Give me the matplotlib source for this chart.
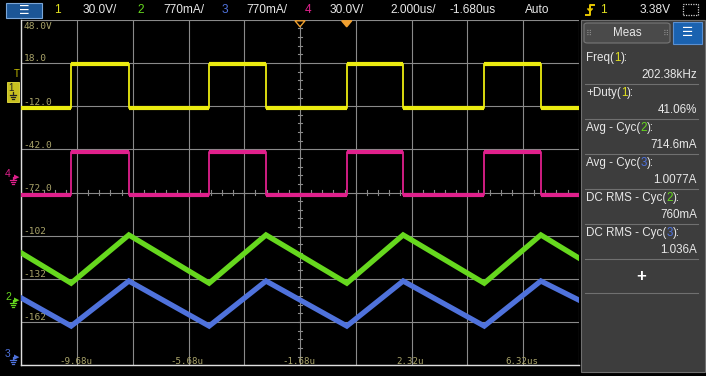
import numpy as np
import matplotlib
matplotlib.use("Agg")
import matplotlib.pyplot as plt
from matplotlib.patches import Rectangle, FancyBboxPatch, Polygon
from matplotlib.lines import Line2D

rise_us = [-9.89, -4.94, 0.00, 4.93]          # rising edges of ch1 / ch4
fall_us = [-7.82, -2.90, 2.02, 6.96]          # falling edges of ch1 / ch4
ch1_high, ch1_low = 17.5, -13.0               # yellow square (V on screen scale)
ch4_high, ch4_low = -44.0, -73.5              # magenta square

ch2_t = [-11.68, -9.89, -7.82, -4.94, -2.90, 0.00, 2.02, 4.93, 6.96, 8.32]
ch2_v = [-114.0, -135.0, -101.5, -135.0, -101.5, -135.0, -101.5, -135.0, -101.5, -117.5]
ch3_t = [-11.68, -9.89, -7.82, -4.94, -2.90, 0.00, 2.02, 4.93, 6.96, 8.32]
ch3_v = [-145.3, -164.8, -133.5, -164.8, -133.5, -164.8, -133.5, -164.8, -133.5, -146.7]

volt_levels = [48, 18, -12, -42, -72, -102, -132, -162]
volt_labels = ["48.0V", "18.0", "-12.0", "-42.0", "-72.0", "-102", "-132", "-162"]
time_pos = [-9.68, -5.68, -1.68, 2.32, 6.32]
time_labels = ["-9.68u", "-5.68u", "-1.68u", "2.32u", "6.32us"]

meas_names = [("Freq(", "1", "):"), ("+Duty(", "1", "):"), ("Avg - Cyc(", "2", "):"),
              ("Avg - Cyc(", "3", "):"), ("DC RMS - Cyc(", "2", "):"), ("DC RMS - Cyc(", "3", "):")]
meas_values = ["202.38kHz", "41.06%", "714.6mA", "1.0077A", "760mA", "1.036A"]

top_items = [("1", "ch1"), ("30.0V/", "txt"), ("2", "ch2"), ("770mA/", "txt"), ("3", "ch3"),
             ("770mA/", "txt"), ("4", "ch4"), ("30.0V/", "txt"), ("2.000us/", "txt"),
             ("-1.680us", "txt"), ("Auto", "txt"), ("1", "ch1"), ("3.38V", "txt")]

# ---------------- styling ----------------
W, H = 706, 376
C1, C2, C3, C4 = "#ecec10", "#66d81e", "#4f72dc", "#e0208c"
C1T = "#e0e020"
GRID = "#8a8a8a"
LBL = "#aaa46a"
SANS = ["Liberation Sans", "DejaVu Sans"]
MONO = ["DejaVu Sans Mono"]

fig = plt.figure(figsize=(W / 100, H / 100), dpi=100, facecolor="black")

def fx(x):
    return x / W

def fy(y):
    return 1 - y / H

def fline(xs, ys, color, lw=0.9, z=6):
    fig.lines.append(Line2D([fx(v) for v in xs], [fy(v) for v in ys],
                            transform=fig.transFigure, color=color, lw=lw, zorder=z))

def gnd(x, y, color):
    # small ground symbol: stem + three bars, top at (x, y)
    fline([x, x], [y, y + 3], color)
    fline([x - 3, x + 3], [y + 3, y + 3], color)
    fline([x - 2, x + 2], [y + 5, y + 5], color)
    fline([x - 1, x + 1], [y + 7, y + 7], color)

# graticule axes: x 21.25..578.75 px, y 19.8..365.2 px
L, R, T, B = 21.25, 578.75, 19.8, 365.2
ax = fig.add_axes([fx(L), fy(B), (R - L) / W, (B - T) / H])
ax.set_facecolor("black")
ax.set_xlim(-11.68, 8.32)
ax.set_ylim(-192, 48)
ax.set_xticks(np.arange(-11.68, 8.33, 2.0))
ax.set_yticks(np.arange(-192, 48.1, 30))
ax.grid(True, color=GRID, lw=0.8)
ax.tick_params(length=0, labelbottom=False, labelleft=False)
for s in ax.spines.values():
    s.set_visible(False)
ax.spines["left"].set_visible(True)
ax.spines["left"].set_color("#e0e0e0")
ax.spines["left"].set_linewidth(1.0)
ax.spines["bottom"].set_visible(True)
ax.spines["bottom"].set_color("#e0e0e0")
ax.spines["bottom"].set_linewidth(1.0)

# minor ticks on centre lines
for v in np.arange(-192, 48.1, 6):
    ax.plot([-1.75, -1.61], [v, v], color=GRID, lw=0.8, zorder=1)
for t in np.arange(-11.68, 8.33, 0.4):
    ax.plot([t, t], [-73.8, -70.2], color=GRID, lw=0.8, zorder=1)

for lvl, lab in zip(volt_levels, volt_labels):
    yy = lvl - 4.5 if lvl == 48 else lvl + 2.8
    ax.text(-11.60, yy, lab, color=LBL, fontsize=6.8, family=MONO, va="center", ha="left", zorder=2)
for tp, lab in zip(time_pos, time_labels):
    ax.text(tp - 0.05, -189.5, lab, color=LBL, fontsize=6.6, family=MONO, va="center", ha="center", zorder=2)

# square waves
def square(high, low):
    ts = [-11.68]
    vs = [low]
    for r, f in zip(rise_us, fall_us):
        ts += [r, r, f, f]
        vs += [low, high, high, low]
    ts.append(8.32)
    vs.append(low)
    return ts, vs

for hi, lo, col in [(ch1_high, ch1_low, C1), (ch4_high, ch4_low, C4)]:
    ts, vs = square(hi, lo)
    ax.plot(ts, vs, color=col, lw=1.3, zorder=3)
    # thick horizontal parts
    ax.hlines([hi] * len(rise_us), rise_us, fall_us, color=col, lw=3.0, zorder=3)
    lows_a = [-11.68] + fall_us
    lows_b = rise_us + [8.32]
    ax.hlines([lo] * len(lows_a), lows_a, lows_b, color=col, lw=3.0, zorder=3)

ax.plot(ch2_t, ch2_v, color=C2, lw=3.8, zorder=3, solid_joinstyle="miter")
ax.plot(ch3_t, ch3_v, color=C3, lw=3.8, zorder=3, solid_joinstyle="miter")

# trigger markers at top
def tri(xpx, filled):
    pts = [(fx(xpx - 5), fy(T + 1)), (fx(xpx + 5), fy(T + 1)), (fx(xpx), fy(T + 7))]
    fig.patches.append(Polygon(pts, closed=True, transform=fig.transFigure,
                               facecolor="#f0a030" if filled else "black",
                               edgecolor="#f0a030", lw=1.0, zorder=10))
tri(300, False)
tri(346.7, True)

# ---------------- top status bar ----------------
fig.patches.append(Rectangle((fx(6), fy(18)), fx(36), 15 / H, transform=fig.transFigure,
                             facecolor="#1c5696", edgecolor="#7aa6d8", lw=0.8, zorder=5))
fig.text(fx(24), fy(10.5), "☰", color="white", fontsize=8.5, ha="center", va="center",
         family=["DejaVu Sans"], zorder=6)
top_x = [57, 83, 141, 163, 225, 246, 308, 330, 390, 450, 525, 603, 640]
colmap = {"ch1": C1T, "ch2": C2, "ch3": C3, "ch4": C4, "txt": "#e8e8e8"}
for (s, k), xx in zip(top_items, top_x):
    fig.text(fx(xx), fy(10), s, color=colmap[k], fontsize=8.6, family=SANS,
             ha="center" if k != "txt" else "left", va="center")
# trigger edge icon
fline([586, 590, 590, 594], [15, 15, 5, 5], "#e8c800", lw=1.4)
fline([588, 590, 592], [9, 11, 9], "#e8c800", lw=1.2)
# dotted rectangle icon
fig.patches.append(Rectangle((fx(683), fy(15)), fx(15), 11 / H, transform=fig.transFigure,
                             facecolor="none", edgecolor="#d0d0d0", lw=0.9, ls=(0, (1, 1))))

# ---------------- left channel markers ----------------
fig.patches.append(Rectangle((fx(7), fy(102)), fx(12), 20 / H, transform=fig.transFigure,
                             facecolor="#c8c020", edgecolor="#e8e040", lw=0.6, zorder=5))
fig.text(fx(11), fy(88), "1", color="#202020", fontsize=7, family=SANS, ha="center", va="center", zorder=6)
gnd(13, 92, "#202020")
fig.text(fx(17), fy(74), "T", color="#c8c000", fontsize=7, family=SANS, ha="center", va="center")
for s, col, ypx in [("4", C4, 177), ("2", C2, 300), ("3", C3, 357)]:
    fig.text(fx(8), fy(ypx - 3), s, color=col, fontsize=7.5, family=SANS, ha="center", va="center")
    gnd(13, ypx, col)
    fig.text(fx(17), fy(ypx), "▶", color=col, fontsize=5, family=["DejaVu Sans"], ha="center", va="center")

# ---------------- measurement panel ----------------
fig.patches.append(Rectangle((fx(581), fy(372)), fx(124), 352 / H, transform=fig.transFigure,
                             facecolor="#3d3d3d", edgecolor="#707070", lw=0.8, zorder=1))
fig.patches.append(FancyBboxPatch((fx(584), fy(43)), fx(86), 20 / H, transform=fig.transFigure,
                                  boxstyle="round,pad=0,rounding_size=0.005",
                                  facecolor="#4a4a4a", edgecolor="#777777", lw=0.8, zorder=2))
fig.text(fx(627), fy(33), "Meas", color="#e8e8e8", fontsize=8.4, family=SANS, ha="center", va="center", zorder=3)
fig.text(fx(589), fy(33), "⠿", color="#888888", fontsize=6, family=["DejaVu Sans"], ha="center", va="center", zorder=3)
fig.text(fx(666), fy(33), "⠿", color="#888888", fontsize=6, family=["DejaVu Sans"], ha="center", va="center", zorder=3)
fig.patches.append(Rectangle((fx(673), fy(44)), fx(29), 22 / H, transform=fig.transFigure,
                             facecolor="#1a62b0", edgecolor="#5a8fd0", lw=0.8, zorder=2))
fig.text(fx(687.5), fy(33), "☰", color="white", fontsize=9, family=["DejaVu Sans"], ha="center", va="center", zorder=3)

dig_col = {"1": C1T, "2": C2, "3": C3}
name_y = [58, 93, 128, 163, 198, 233]
fig.canvas.draw()
for (pre, d, post), val, ny in zip(meas_names, meas_values, name_y):
    t1 = fig.text(fx(586), fy(ny), pre, color="#e8e8e8", fontsize=8.4, family=SANS, ha="left", va="center", zorder=3)
    bb = t1.get_window_extent(renderer=fig.canvas.get_renderer())
    t2 = fig.text(bb.x1 / W, fy(ny), d, color=dig_col[d], fontsize=8.4, family=SANS, ha="left", va="center", zorder=3)
    bb2 = t2.get_window_extent(renderer=fig.canvas.get_renderer())
    fig.text(bb2.x1 / W, fy(ny), post, color="#e8e8e8", fontsize=8.4, family=SANS, ha="left", va="center", zorder=3)
    fig.text(fx(697), fy(ny + 17), val, color="#e8e8e8", fontsize=8.4, family=SANS, ha="right", va="center", zorder=3)
    fline([585, 698], [ny + 26, ny + 26], "#707070", lw=0.8, z=3)
fig.text(fx(641), fy(276), "+", color="white", fontsize=12, fontweight="bold", family=SANS,
         ha="center", va="center", zorder=3)
fline([585, 698], [293, 293], "#707070", lw=0.8, z=3)

fig.savefig("out.png", dpi=100, facecolor="black")
